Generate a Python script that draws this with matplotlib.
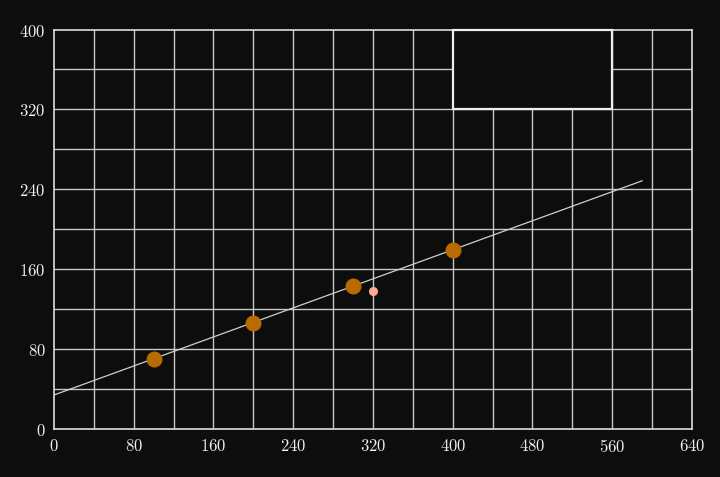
import matplotlib
matplotlib.use('Agg')
import matplotlib.pyplot as plt
from matplotlib.patches import Rectangle

plt.rcParams['font.family'] = 'serif'
plt.rcParams['font.serif'] = ['cmr10', 'DejaVu Serif']
plt.rcParams['axes.formatter.use_mathtext'] = True

# data points
xs = [100, 200, 300, 400]
ys = [70, 106, 143, 179]
extra_x = [320]
extra_y = [138]

# fitted line
line_x = [0, 590]
line_y = [34, 248.5]

x_ticks = [0, 80, 160, 240, 320, 400, 480, 560, 640]
y_ticks = [0, 80, 160, 240, 320, 400]

bg = '#0d0d0d'

fig = plt.figure(figsize=(7.2, 4.775), dpi=100, facecolor=bg)
ax = fig.add_axes([0.075, 0.1006, 0.886, 0.8365], facecolor=bg)

ax.set_xlim(0, 640)
ax.set_ylim(0, 400)

# grid every 40
for gx in range(40, 640, 40):
    ax.axvline(gx, color='#c8c8c8', lw=1, zorder=1)
for gy in range(40, 400, 40):
    ax.axhline(gy, color='#c8c8c8', lw=1, zorder=1)

ax.plot(line_x, line_y, color='#d0d0d0', lw=0.9, zorder=2)
ax.plot(xs, ys, 'o', color='#b86b00', ms=10.5, zorder=3)
ax.plot(extra_x, extra_y, 'o', color='#ffab91', ms=5.5, zorder=3)

# empty box in upper right
ax.add_patch(Rectangle((400, 320), 160, 80, facecolor=bg, edgecolor='#eeeeee',
                       lw=1.6, zorder=4, clip_on=False))

ax.set_xticks(x_ticks)
ax.set_yticks(y_ticks)
ax.tick_params(colors='#eeeeee', length=0, labelsize=12, pad=6)
for s in ax.spines.values():
    s.set_color('#dddddd')
    s.set_linewidth(1.2)

fig.savefig('out.png', dpi=100, facecolor=bg)
